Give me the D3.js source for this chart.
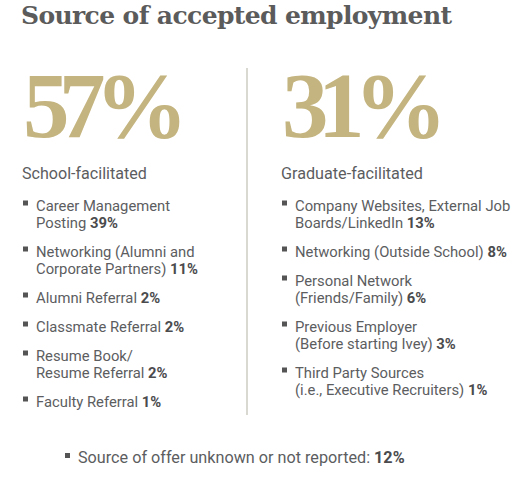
<!DOCTYPE html>
<html>
<head>
<meta charset="utf-8">
<script src="https://cdn.jsdelivr.net/npm/d3@7"></script>
<style>
  body { margin: 0; background: #fff; }
  svg { display: block; }
</style>
</head>
<body>
<svg id="chart" width="528" height="489"></svg>
<script>
const title = 'Source of accepted employment';

const groups = ['School-facilitated', 'Graduate-facilitated'];
const groupTotals = [57, 31];

const schoolLabels = [
  ['Career Management', 'Posting'],
  ['Networking (Alumni and', 'Corporate Partners)'],
  ['Alumni Referral'],
  ['Classmate Referral'],
  ['Resume Book/', 'Resume Referral'],
  ['Faculty Referral']
];
const schoolValues = [39, 11, 2, 2, 2, 1];

const graduateLabels = [
  ['Company Websites, External Job', 'Boards/LinkedIn'],
  ['Networking (Outside School)'],
  ['Personal Network', '(Friends/Family)'],
  ['Previous Employer', '(Before starting Ivey)'],
  ['Third Party Sources', '(i.e., Executive Recruiters)']
];
const graduateValues = [13, 8, 6, 3, 1];

const unknownLabel = 'Source of offer unknown or not reported:';
const unknownValue = 12;

const gold = '#c4b47f';
const textGrey = '#5c5d5f';
const boldGrey = '#4b4b4d';
const sans = 'Roboto, "Open Sans", sans-serif';
const serif = '"Liberation Serif", "Times New Roman", serif';

const svg = d3.select('#chart');
const pct = (v) => v + '%';

// columns
const x = d3.scalePoint().domain(groups).range([22, 281]);

// fit a text element to a target width by adjusting font size
function fitWidth(sel, target) {
  const w = sel.node().getComputedTextLength();
  const fs = parseFloat(sel.attr('font-size'));
  sel.attr('font-size', fs * target / w);
}

// fit to a target width by spreading letters instead
function fitSpacing(sel, target) {
  const node = sel.node();
  const w = node.getComputedTextLength();
  const n = node.getNumberOfChars();
  sel.attr('letter-spacing', (target - w) / (n - 1));
}

svg.append('text')
  .attr('x', 21)
  .attr('y', 24)
  .attr('font-family', '"DejaVu Serif", serif')
  .attr('font-weight', 'bold')
  .attr('font-size', 25)
  .attr('fill', '#5b5b5b')
  .text(title)
  .call(fitSpacing, 431);

// divider
svg.append('line')
  .attr('x1', 247).attr('x2', 247)
  .attr('y1', 68).attr('y2', 415)
  .attr('stroke', '#d9d9d2')
  .attr('stroke-width', 2);

const cols = svg.selectAll('g.col')
  .data(groups.map((g, i) => ({
    name: g,
    total: groupTotals[i],
    items: (i === 0 ? schoolLabels : graduateLabels).map((l, j) => ({
      lines: l,
      value: (i === 0 ? schoolValues : graduateValues)[j]
    }))
  })))
  .join('g')
  .attr('class', 'col')
  .attr('transform', (d) => 'translate(' + x(d.name) + ',0)');

cols.append('text')
  .attr('x', 1)
  .attr('y', 137)
  .attr('font-family', serif)
  .attr('font-weight', 'bold')
  .attr('font-size', 93)
  .attr('fill', gold)
  .text((d) => pct(d.total))
  .each(function () { fitSpacing(d3.select(this), 165); });

cols.append('text')
  .attr('x', 0)
  .attr('y', 179)
  .attr('font-family', sans)
  .attr('font-size', 15)
  .attr('fill', textGrey)
  .text((d) => d.name)
  .each(function (d, i) { fitWidth(d3.select(this), i === 0 ? 125 : 142); });

const lineH = 17, gap = 29;

cols.each(function (d) {
  const g = d3.select(this);
  let y = 210.5;
  d.items.forEach((item) => {
    const it = g.append('g').attr('transform', 'translate(0,' + y + ')');
    it.append('rect')
      .attr('x', 1).attr('y', -10)
      .attr('width', 5).attr('height', 5)
      .attr('fill', '#555');
    const t = it.append('text')
      .attr('x', 14)
      .attr('font-family', sans)
      .attr('font-size', 14.8)
      .attr('fill', textGrey);
    item.lines.forEach((ln, k) => {
      t.append('tspan')
        .attr('x', 14)
        .attr('y', k * lineH)
        .text(ln + (k === item.lines.length - 1 ? ' ' : ''));
    });
    t.append('tspan')
      .attr('font-weight', 'bold')
      .attr('fill', boldGrey)
      .text(pct(item.value));
    y += (item.lines.length - 1) * lineH + gap;
  });
});

// unknown source footnote
const foot = svg.append('g').attr('transform', 'translate(64,463)');
foot.append('rect')
  .attr('x', 1).attr('y', -10)
  .attr('width', 5).attr('height', 5)
  .attr('fill', '#555');
const ft = foot.append('text')
  .attr('x', 14)
  .attr('font-family', sans)
  .attr('font-size', 16.2)
  .attr('fill', textGrey);
ft.append('tspan').text(unknownLabel + ' ');
ft.append('tspan')
  .attr('font-weight', 'bold')
  .attr('fill', boldGrey)
  .text(pct(unknownValue));
</script>
</body>
</html>
